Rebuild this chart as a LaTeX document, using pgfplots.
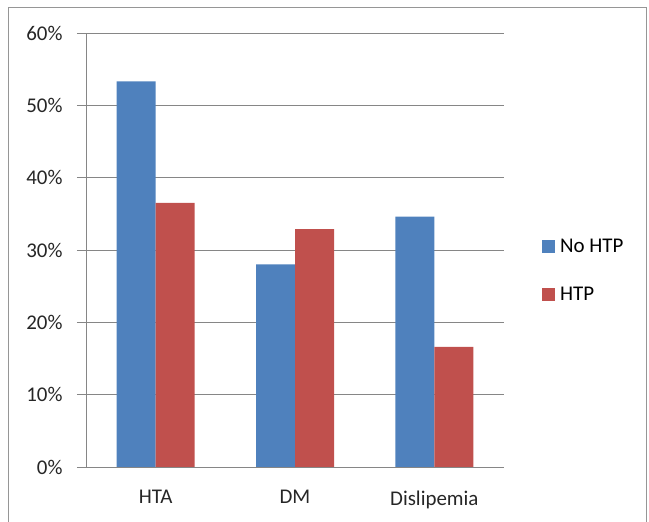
\documentclass[border=0pt]{standalone}
\usepackage{pgfplots}
\pgfplotsset{compat=1.18}
\usepackage{fontspec}
\setmainfont{Carlito}
\definecolor{barblue}{RGB}{79,129,189}
\definecolor{barred}{RGB}{192,80,77}
\definecolor{axgray}{RGB}{134,134,134}
\definecolor{framegray}{RGB}{150,150,150}
\begin{document}
\begin{tikzpicture}[x=1bp,y=1bp]
\useasboundingbox (0,0) rectangle (649,522);
% outer chart frame
\draw[framegray, line width=1bp] (8,-2) -- (8,514) -- (646,514) -- (646,-2);
\begin{axis}[
  at={(86bp,55bp)}, anchor=south west,
  scale only axis, width=418bp, height=434bp,
  ybar=0pt, bar width=39bp,
  xmin=-0.5, xmax=2.5, ymin=0, ymax=60,
  axis x line*=bottom, axis y line*=left,
  axis line style={axgray, line width=0.9bp, -},
  xtick={0,1,2}, xticklabels={HTA,DM,Dislipemia},
  xtick style={draw=none},
  minor xtick={-0.5,0.5,1.5,2.5},
  minor tick length=7bp, major tick length=9bp,
  tick align=outside,
  minor x tick style={axgray, line width=0.9bp},
  ytick={0,10,...,60},
  yticklabels={0\%,10\%,20\%,30\%,40\%,50\%,60\%},
  y tick style={axgray, line width=0.9bp},
  ymajorgrids, grid style={axgray, line width=0.9bp},
  tick label style={font=\fontsize{21}{23}\selectfont, text=black!85},
  yticklabel style={xshift=-11bp},
  xticklabel style={yshift=-11bp},
  legend style={draw=none, fill=none, at={(1,0.452)}, anchor=west, xshift=35bp,
    font=\fontsize{21}{23}\selectfont, row sep=29bp,
    legend cell align=left,
    /tikz/every odd column/.append style={column sep=3bp}},
  legend image code/.code={\fill[#1] (0bp,-6.5bp) rectangle (13bp,6.5bp);},
]
\addplot[fill=barblue, draw=none] coordinates {(0,53.3) (1,28.0) (2,34.6)};
\addplot[fill=barred, draw=none] coordinates {(0,36.5) (1,32.9) (2,16.6)};
\legend{No HTP,HTP}
\end{axis}
\end{tikzpicture}
\end{document}
